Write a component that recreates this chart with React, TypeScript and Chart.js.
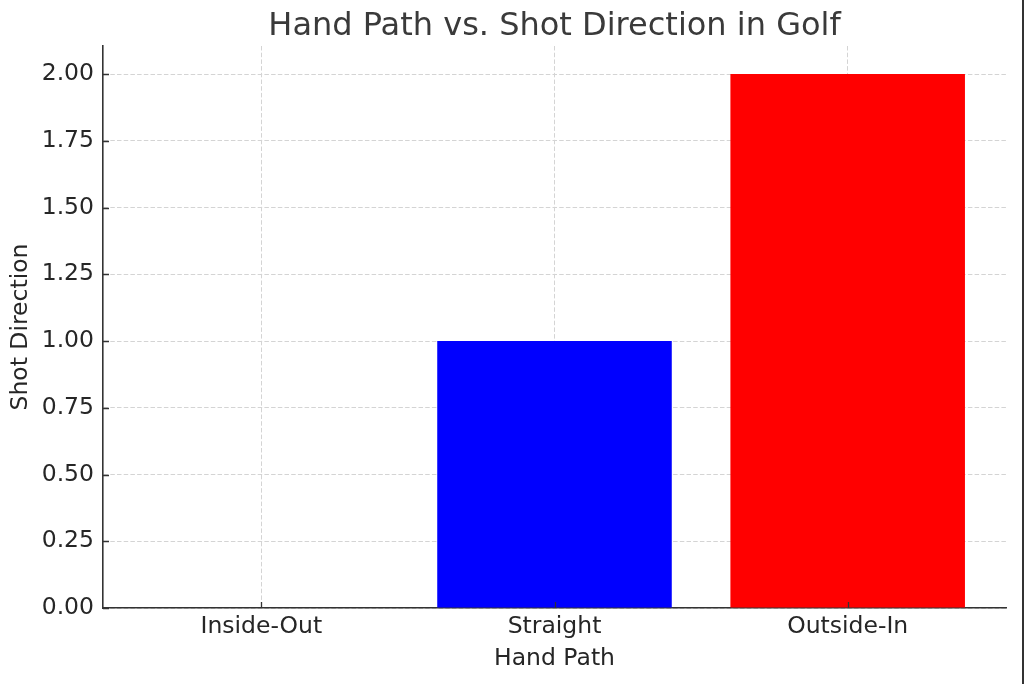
import React, { useEffect, useRef } from "react";
import { Chart, registerables } from "chart.js";

Chart.register(...registerables);

const categories: string[] = ["Inside-Out", "Straight", "Outside-In"];
const shotDirection: number[] = [0, 1, 2];
const barColors: string[] = ["green", "blue", "red"];
const yTicks: number[] = [0, 0.25, 0.5, 0.75, 1.0, 1.25, 1.5, 1.75, 2.0];
const titleText = "Hand Path vs. Shot Direction in Golf";
const xTitle = "Hand Path";
const yTitle = "Shot Direction";

const FONT = "'DejaVu Sans', sans-serif";

const innerTicks = {
  id: "innerTicks",
  afterDatasetsDraw(chart: any) {
    const { ctx, chartArea, scales } = chart;
    ctx.save();
    ctx.strokeStyle = "#333333";
    ctx.lineWidth = 1.3;
    ctx.beginPath();
    for (const v of yTicks) {
      const y = Math.round(scales.y.getPixelForValue(v)) + 0.5;
      ctx.moveTo(chartArea.left, y);
      ctx.lineTo(chartArea.left + 6, y);
    }
    categories.forEach((_, i) => {
      const x = Math.round(scales.x.getPixelForValue(i)) + 0.5;
      ctx.moveTo(x, chartArea.bottom);
      ctx.lineTo(x, chartArea.bottom - 6);
    });
    ctx.stroke();
    ctx.fillStyle = "#3a3a3a";
    ctx.font = `32px ${FONT}`;
    ctx.textAlign = "center";
    ctx.textBaseline = "alphabetic";
    ctx.fillText(titleText, (chartArea.left + chartArea.right) / 2, 35);
    ctx.restore();
  },
};

export default function App() {
  const ref = useRef<HTMLCanvasElement>(null);
  useEffect(() => {
    if (!ref.current) return;
    const chart = new Chart(ref.current, {
      type: "bar",
      data: {
        datasets: [
          {
            data: shotDirection.map((v, i) => ({ x: i, y: v })),
            backgroundColor: barColors,
            borderWidth: 0,
            categoryPercentage: 1,
            barPercentage: 0.8,
          } as any,
        ],
      },
      options: {
        animation: false,
        responsive: false,
        layout: { padding: { top: 46, right: 18, left: 0, bottom: 0 } },
        plugins: { legend: { display: false }, tooltip: { enabled: false }, title: { display: false } },
        scales: {
          x: {
            type: "linear",
            min: -0.54,
            max: 2.54,
            offset: false,
            afterBuildTicks: (s: any) => {
              s.ticks = categories.map((_, i) => ({ value: i }));
            },
            afterFit: (s: any) => {
              s.height = 76;
            },
            ticks: {
              callback: (v: any) => categories[Math.round(Number(v))] ?? "",
              font: { family: FONT, size: 23.5 },
              color: "#262626",
              padding: 5,
              maxRotation: 0,
              autoSkip: false,
            },
            grid: {
              color: "#d4d4d4",
              lineWidth: 1,
              drawTicks: false,
              offset: false,
            },
            border: { display: true, color: "#333333", width: 1.6, dash: [4.5, 2.2] } as any,
            title: {
              display: true,
              text: xTitle,
              font: { family: FONT, size: 23.5 },
              color: "#262626",
              padding: { top: 0, bottom: 11 },
            },
          } as any,
          y: {
            min: 0,
            max: 2.105,
            afterBuildTicks: (s: any) => {
              s.ticks = yTicks.map((v) => ({ value: v }));
            },
            afterFit: (s: any) => {
              s.width = 103;
            },
            ticks: {
              callback: (v: any) => Number(v).toFixed(2),
              font: { family: FONT, size: 23.5 },
              color: "#262626",
              padding: 9,
            },
            grid: {
              color: "#d4d4d4",
              lineWidth: 1,
              drawTicks: false,
            },
            border: { display: true, color: "#333333", width: 1.6, dash: [4.5, 2.2] } as any,
            title: {
              display: true,
              text: yTitle,
              font: { family: FONT, size: 23.5 },
              color: "#262626",
              padding: { top: 7, bottom: 0 },
            },
          },
        },
      },
      plugins: [innerTicks],
    });
    return () => chart.destroy();
  }, []);
  return (
    <div style={{ position: "fixed", left: 0, top: 0, width: 1024, height: 684, background: "#fff" }}>
      <canvas ref={ref} width={1024} height={684} style={{ width: 1024, height: 684, display: "block" }} />
      <div style={{ position: "absolute", left: 1022, top: 0, width: 2, height: 684, background: "#333" }} />
    </div>
  );
}
